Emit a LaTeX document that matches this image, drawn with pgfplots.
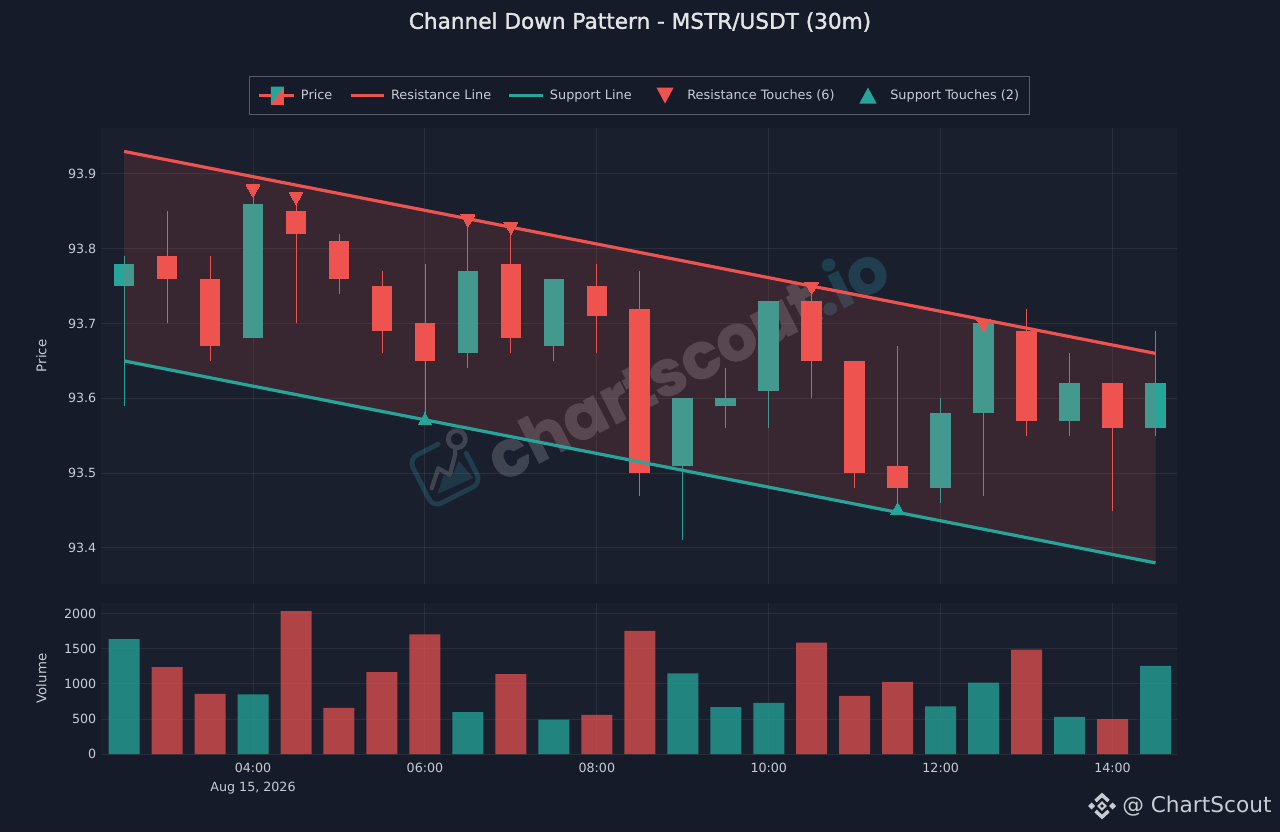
\documentclass[border=0pt]{standalone}
\usepackage{fontspec}
\setmainfont{DejaVu Sans}
\newfontfamily\wmfont[FakeBold=1.2]{Poppins}
\newfontfamily\titlefont[FakeBold=1.6]{DejaVu Sans}
\usepackage{pgfplots}
\pgfplotsset{compat=1.18}
\definecolor{paper}{HTML}{151B28}
\definecolor{panel}{HTML}{191F2C}
\definecolor{upc}{HTML}{26A69A}
\definecolor{dnc}{HTML}{EF5350}
\definecolor{txt}{HTML}{C8CCD4}
\definecolor{wmgrey}{RGB}{62,68,80}
\definecolor{wmteal}{RGB}{32,62,78}
\newcommand{\fs}{\fontsize{9.5pt}{11.5pt}\selectfont}
\pgfplotsset{
  base/.style={
    scale only axis, width=807pt, xmin=2.231, xmax=14.750,
    axis line style={draw=none}, major tick length=0pt,
    xtick={4,6,8,10,12,14}, grid=major,
    grid style={white, opacity=0.07, line width=0.75pt},
    ticklabel style={font=\fs, text=txt},
    label style={font=\fontsize{10pt}{12pt}\selectfont, text=txt},
    /pgf/number format/assume math mode=true,
    unbounded coords=jump,
    clip=true,
  },
  wick/.style={line width=0.65pt, no marks},
  body/.style={line width=15.5pt, no marks, line cap=butt, line join=miter},
}
\begin{document}
\begin{tikzpicture}
\path[use as bounding box] (0,0) rectangle (960pt,624pt);
\fill[paper] (0,0) rectangle (960pt,624pt);
\begin{scope}[x=0.75pt,y=0.75pt]
\fill[panel] (101,832-584) rectangle (1177,832-128);
\fill[panel] (101,832-755) rectangle (1177,832-603);
% watermark
\node[rotate=27, inner sep=0pt, font={\wmfont\bfseries\fontsize{48pt}{48pt}\selectfont}] at (686,832-360)
  {\textcolor{wmgrey}{chartscout}\textcolor{wmteal}{.io}};
\begin{scope}[shift={(445,832-471)}, rotate=27]
  \fill[wmteal!80!panel] (-17,-17) -- (-3,-3) -- (3,-9) -- (17,3) -- (22,-19) -- cycle;
  \draw[wmteal, line width=3.6pt, line join=round, rounded corners=7pt, line cap=round] (6,27) -- (-27,27) -- (-27,-27) -- (27,-27) -- (27,6);
  \draw[wmgrey, line width=3.2pt, line join=round, line cap=round] (-19.7,-9.4) -- (-4.7,5.4) -- (2.6,-5.8) -- (16.2,9.7) -- (20,17);
  \draw[wmgrey, line width=3.6pt] (25,23) circle (8.5);
\end{scope}
% titles and credits
\node[font={\titlefont\fontsize{16.2pt}{19pt}\selectfont}, text=white!88!paper, inner sep=0pt] at (640,832-22)
  {Channel Down Pattern - MSTR/USDT (30m)};
\node[anchor=west, inner sep=0pt, text=txt, font={\fontsize{16.25pt}{20pt}\selectfont}] at (1122,832-806) {@ ChartScout};
\begin{scope}[shift={(1102,832-806)}]
  \fill[txt] (-14,0) -- (-10.5,3.5) -- (-7,0) -- (-10.5,-3.5) -- cycle;
  \fill[txt] (14,0) -- (10.5,3.5) -- (7,0) -- (10.5,-3.5) -- cycle;
  \draw[txt, line width=2.6pt] (-6.5,5) -- (0,11) -- (6.5,5);
  \draw[txt, line width=2.6pt] (-6.5,-5) -- (0,-11) -- (6.5,-5);
  \draw[txt, line width=1.5pt] (-3.5,0) -- (0,3.5) -- (3.5,0) -- (0,-3.5) -- cycle;
\end{scope}
\end{scope}

% ---- price panel
\begin{axis}[base, at={(75.75pt,186pt)}, anchor=south west, height=342pt,
  ymin=93.3518, ymax=93.9613, ytick={93.4,93.5,93.6,93.7,93.8,93.9},
  xticklabels={}, ylabel={Price},
  ylabel style={at={(axis description cs:-0.0462,0.5)}, anchor=south},
  yticklabel style={/pgf/number format/fixed, /pgf/number format/fixed zerofill, /pgf/number format/precision=1},
  legend columns=5, legend cell align=left,
  legend style={at={(0.5005,1.0712)}, anchor=center, draw=white!28!paper, line width=0.9pt, fill=paper,
    font=\fontsize{9.65pt}{11.5pt}\selectfont, text=txt, inner xsep=6pt, inner ysep=7.5pt,
    /tikz/every even column/.append style={column sep=10.5pt},
    /tikz/every odd column/.append style={column sep=2.25pt}},
]
\addlegendimage{legend image code/.code={
  \draw[dnc, line width=2.5pt] (0pt,0pt) -- (26pt,0pt);
  \fill[dnc, draw=none] (9pt,-6.75pt) rectangle (19pt,6.75pt);
  \fill[upc, draw=none] (9pt,-6.75pt) -- (9pt,6.75pt) -- (19pt,6.75pt) -- cycle;
}}
\addlegendentry{Price}
\addlegendimage{legend image code/.code={\draw[dnc, line width=2.25pt] (0pt,0pt) -- (25pt,0pt);}}
\addlegendentry{Resistance Line}
\addlegendimage{legend image code/.code={\draw[upc, line width=2.25pt] (0pt,0pt) -- (25pt,0pt);}}
\addlegendentry{Support Line}
\addlegendimage{legend image code/.code={\path[draw=none,fill=none] (0pt,0pt) -- (25pt,0pt);\fill[dnc, draw=none] (12.5pt,-6pt) -- (19pt,6pt) -- (6pt,6pt) -- cycle;}}
\addlegendentry{Resistance Touches (6)}
\addlegendimage{legend image code/.code={\path[draw=none,fill=none] (0pt,0pt) -- (25pt,0pt);\fill[upc, draw=none] (12.5pt,6pt) -- (19pt,-6pt) -- (6pt,-6pt) -- cycle;}}
\addlegendentry{Support Touches (2)}

% wicks: low, high per candle
\addplot[wick, upc, forget plot] coordinates {
 (2.5,93.59)(2.5,93.79)(2.5,nan)
 (4.0,93.68)(4.0,93.88)(4.0,nan)
 (6.5,93.64)(6.5,93.84)(6.5,nan)
 (7.5,93.65)(7.5,93.76)(7.5,nan)
 (9.0,93.41)(9.0,93.60)(9.0,nan)
 (9.5,93.56)(9.5,93.64)(9.5,nan)
 (10.0,93.56)(10.0,93.73)(10.0,nan)
 (12.0,93.46)(12.0,93.60)(12.0,nan)
 (12.5,93.47)(12.5,93.70)(12.5,nan)
 (13.5,93.55)(13.5,93.66)(13.5,nan)
 (14.5,93.55)(14.5,93.69)
};
\addplot[wick, dnc, forget plot] coordinates {
 (3.0,93.70)(3.0,93.85)(3.0,nan)
 (3.5,93.65)(3.5,93.79)(3.5,nan)
 (4.5,93.70)(4.5,93.87)(4.5,nan)
 (5.0,93.74)(5.0,93.82)(5.0,nan)
 (5.5,93.66)(5.5,93.77)(5.5,nan)
 (6.0,93.57)(6.0,93.78)(6.0,nan)
 (7.0,93.66)(7.0,93.83)(7.0,nan)
 (8.0,93.66)(8.0,93.78)(8.0,nan)
 (8.5,93.47)(8.5,93.77)(8.5,nan)
 (10.5,93.60)(10.5,93.75)(10.5,nan)
 (11.0,93.48)(11.0,93.65)(11.0,nan)
 (11.5,93.45)(11.5,93.67)(11.5,nan)
 (13.0,93.55)(13.0,93.72)(13.0,nan)
 (14.0,93.45)(14.0,93.62)
};
% bodies: bottom, top per candle
\addplot[body, upc, forget plot] coordinates {
 (2.5,93.75)(2.5,93.78)(2.5,nan)
 (4.0,93.68)(4.0,93.86)(4.0,nan)
 (6.5,93.66)(6.5,93.77)(6.5,nan)
 (7.5,93.67)(7.5,93.76)(7.5,nan)
 (9.0,93.51)(9.0,93.60)(9.0,nan)
 (9.5,93.59)(9.5,93.60)(9.5,nan)
 (10.0,93.61)(10.0,93.73)(10.0,nan)
 (12.0,93.48)(12.0,93.58)(12.0,nan)
 (12.5,93.58)(12.5,93.70)(12.5,nan)
 (13.5,93.57)(13.5,93.62)(13.5,nan)
 (14.5,93.56)(14.5,93.62)
};
\addplot[body, dnc, forget plot] coordinates {
 (3.0,93.76)(3.0,93.79)(3.0,nan)
 (3.5,93.67)(3.5,93.76)(3.5,nan)
 (4.5,93.82)(4.5,93.85)(4.5,nan)
 (5.0,93.76)(5.0,93.81)(5.0,nan)
 (5.5,93.69)(5.5,93.75)(5.5,nan)
 (6.0,93.65)(6.0,93.70)(6.0,nan)
 (7.0,93.68)(7.0,93.78)(7.0,nan)
 (8.0,93.71)(8.0,93.75)(8.0,nan)
 (8.5,93.50)(8.5,93.72)(8.5,nan)
 (10.5,93.65)(10.5,93.73)(10.5,nan)
 (11.0,93.50)(11.0,93.65)(11.0,nan)
 (11.5,93.48)(11.5,93.51)(11.5,nan)
 (13.0,93.57)(13.0,93.69)(13.0,nan)
 (14.0,93.56)(14.0,93.62)
};
% channel band drawn over the candles
\addplot[draw=none, fill=dnc, fill opacity=0.15, forget plot] coordinates {
 (2.5,93.93)(14.5,93.66)(14.5,93.38)(2.5,93.65)} --cycle;
\addplot[dnc, line width=2.4pt, no marks, forget plot] coordinates {(2.5,93.93)(14.5,93.66)};
\addplot[upc, line width=2.4pt, no marks, forget plot] coordinates {(2.5,93.65)(14.5,93.38)};
\addplot[dnc, only marks, forget plot, mark=triangle*, mark size=6pt, mark options={rotate=180, fill=dnc, draw=dnc, line width=0pt}] coordinates {
 (4.0,93.88)(4.5,93.87)(6.5,93.84)(7.0,93.83)(10.5,93.75)(12.5,93.70)};
\addplot[upc, only marks, forget plot, mark=triangle*, mark size=6pt, mark options={fill=upc, draw=upc, line width=0pt}] coordinates {
 (6.0,93.57)(11.5,93.45)};
\end{axis}

% ---- volume panel
\begin{axis}[base, at={(75.75pt,58.5pt)}, anchor=south west, height=113.25pt,
  ymin=0, ymax=2157, ytick={0,500,1000,1500,2000},
  ylabel={Volume},
  ylabel style={at={(axis description cs:-0.0462,0.5)}, anchor=south},
  yticklabel style={/pgf/number format/1000 sep={}},
  xticklabels={{04:00\\[2.75pt]Aug 15, 2026},{06:00},{08:00},{10:00},{12:00},{14:00}},
  xticklabel style={align=center, yshift=-3.5pt},
]
\addplot[ybar, bar shift=0pt, bar width=23.25pt, fill=upc, draw=none, fill opacity=0.75, forget plot] coordinates {
 (2.5,1640)(4.0,850)(6.5,600)(7.5,490)(9.0,1150)(9.5,670)(10.0,730)(12.0,680)(12.5,1020)(13.5,530)(14.5,1260)};
\addplot[ybar, bar shift=0pt, bar width=23.25pt, fill=dnc, draw=none, fill opacity=0.7, forget plot] coordinates {
 (3.0,1240)(3.5,860)(4.5,2040)(5.0,660)(5.5,1170)(6.0,1710)(7.0,1140)(8.0,560)(8.5,1760)(10.5,1590)(11.0,830)(11.5,1030)(13.0,1490)(14.0,500)};
\end{axis}
\end{tikzpicture}
\end{document}
